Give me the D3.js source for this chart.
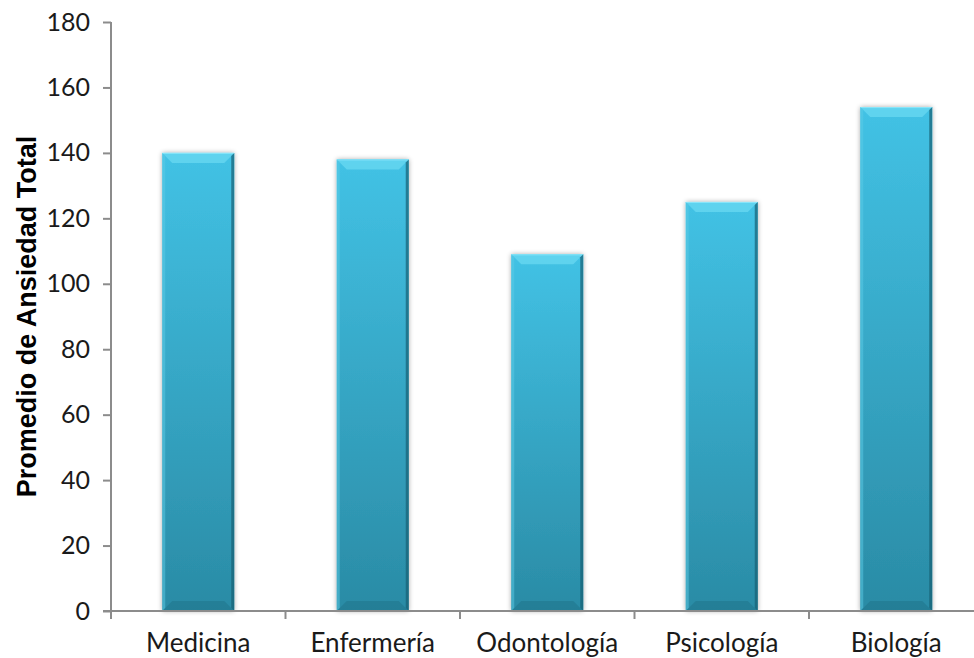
<!DOCTYPE html>
<html>
<head>
<meta charset="utf-8">
<script src="https://cdn.jsdelivr.net/npm/d3@7"></script>
<style>
  html, body { margin: 0; padding: 0; background: #fff; }
  svg { display: block; }
</style>
</head>
<body>
<svg id="chart" width="974" height="658"></svg>
<script>
// Data
const categories = ["Medicina", "Enfermería", "Odontología", "Psicología", "Biología"];
const values = [140, 138, 109, 125, 154];
const yTicks = [0, 20, 40, 60, 80, 100, 120, 140, 160, 180];
const yTitle = "Promedio de Ansiedad Total";

(function () {
const svg = d3.select("#chart");
const plotLeft = 111, plotTop = 22, plotBottom = 611, catStep = 174.5;
const plotRight = plotLeft + catStep * categories.length;

const x = d3.scaleBand().domain(categories).range([plotLeft, plotRight]).paddingInner(0.5875).paddingOuter(0.29375);
const y = d3.scaleLinear().domain([0, 180]).range([plotBottom, plotTop]);

const defs = svg.append("defs");
const grad = defs.append("linearGradient").attr("id", "barGrad").attr("x1", 0).attr("y1", 0).attr("x2", 0).attr("y2", 1);
grad.append("stop").attr("offset", "0%").attr("stop-color", "#42c2e5");
grad.append("stop").attr("offset", "100%").attr("stop-color", "#2a8ba5");

const shadow = defs.append("filter").attr("id", "shadow").attr("x", "-20%").attr("y", "-5%").attr("width", "140%").attr("height", "110%");
shadow.append("feGaussianBlur").attr("in", "SourceAlpha").attr("stdDeviation", 2.5).attr("result", "b");
shadow.append("feComponentTransfer").attr("in", "b").attr("result", "s")
  .append("feFuncA").attr("type", "linear").attr("slope", 0.35);
const merge = shadow.append("feMerge");
merge.append("feMergeNode").attr("in", "s");
merge.append("feMergeNode").attr("in", "SourceGraphic");

// Bars with bevelled edges
const bw = x.bandwidth();
const bars = svg.append("g").selectAll("g").data(categories).join("g")
  .attr("transform", d => `translate(${x(d)},0)`);

bars.append("rect")
  .attr("x", 0).attr("width", bw)
  .attr("y", (d, i) => y(values[i]))
  .attr("height", (d, i) => plotBottom - y(values[i]))
  .attr("fill", "url(#barGrad)")
  .attr("filter", "url(#shadow)");

const bev = 10, side = 3;
// top bevel
bars.append("path")
  .attr("d", (d, i) => {
    const t = y(values[i]);
    return `M0,${t} L${bw},${t} L${bw - bev},${t + bev} L${bev},${t + bev} Z`;
  })
  .attr("fill", "#6ad8f2").attr("opacity", 0.75);
bars.append("line")
  .attr("x1", 0).attr("x2", bw)
  .attr("y1", (d, i) => y(values[i]) + 0.5).attr("y2", (d, i) => y(values[i]) + 0.5)
  .attr("stroke", "#8ae6fa").attr("stroke-width", 1);
// left bevel
bars.append("path")
  .attr("d", (d, i) => {
    const t = y(values[i]);
    return `M0,${t} L${side},${t + side} L${side},${plotBottom - side} L0,${plotBottom} Z`;
  })
  .attr("fill", "#5ccbe6").attr("opacity", 0.5);
// right bevel
bars.append("path")
  .attr("d", (d, i) => {
    const t = y(values[i]);
    return `M${bw},${t} L${bw - side},${t + side} L${bw - side},${plotBottom - side} L${bw},${plotBottom} Z`;
  })
  .attr("fill", "#175f73").attr("opacity", 0.7);
// bottom bevel
bars.append("path")
  .attr("d", `M0,${plotBottom} L${bev},${plotBottom - bev} L${bw - bev},${plotBottom - bev} L${bw},${plotBottom} Z`)
  .attr("fill", "#1d6f86").attr("opacity", 0.45);

// Y axis
const yAxis = svg.append("g").attr("transform", `translate(${plotLeft},0)`)
  .call(d3.axisLeft(y).tickValues(yTicks).tickSize(8).tickPadding(13));
yAxis.select(".domain").attr("stroke", "#8c8c8c").attr("stroke-width", 2).attr("d", `M0,${plotTop}V${plotBottom}`);
yAxis.selectAll(".tick line").attr("stroke", "#8c8c8c").attr("stroke-width", 2);
yAxis.selectAll(".tick text")
  .attr("font-family", "Lato, 'Open Sans', sans-serif").attr("font-size", 25).attr("fill", "#1a1a1a");

// X axis line with category-separator ticks
const xg = svg.append("g");
xg.append("line").attr("x1", 103).attr("x2", 974).attr("y1", plotBottom).attr("y2", plotBottom)
  .attr("stroke", "#8c8c8c").attr("stroke-width", 2);
const seps = d3.range(categories.length + 1).map(i => plotLeft + i * catStep);
xg.selectAll("line.sep").data(seps).join("line").attr("class", "sep")
  .attr("x1", d => d).attr("x2", d => d).attr("y1", plotBottom).attr("y2", plotBottom + 8)
  .attr("stroke", "#8c8c8c").attr("stroke-width", 2);
xg.selectAll("text").data(categories).join("text")
  .attr("x", d => x(d) + bw / 2).attr("y", 652)
  .attr("text-anchor", "middle")
  .attr("font-family", "Lato, 'Open Sans', sans-serif").attr("font-size", 26).attr("fill", "#1a1a1a")
  .text(d => d);

// Y axis title
svg.append("text")
  .attr("transform", `translate(36,${(plotTop + plotBottom) / 2}) rotate(-90)`)
  .attr("text-anchor", "middle")
  .attr("font-family", "'Liberation Sans', Arial, sans-serif").attr("font-weight", "bold").attr("font-size", 27)
  .attr("fill", "#000")
  .text(yTitle);
})();
</script>
</body>
</html>
